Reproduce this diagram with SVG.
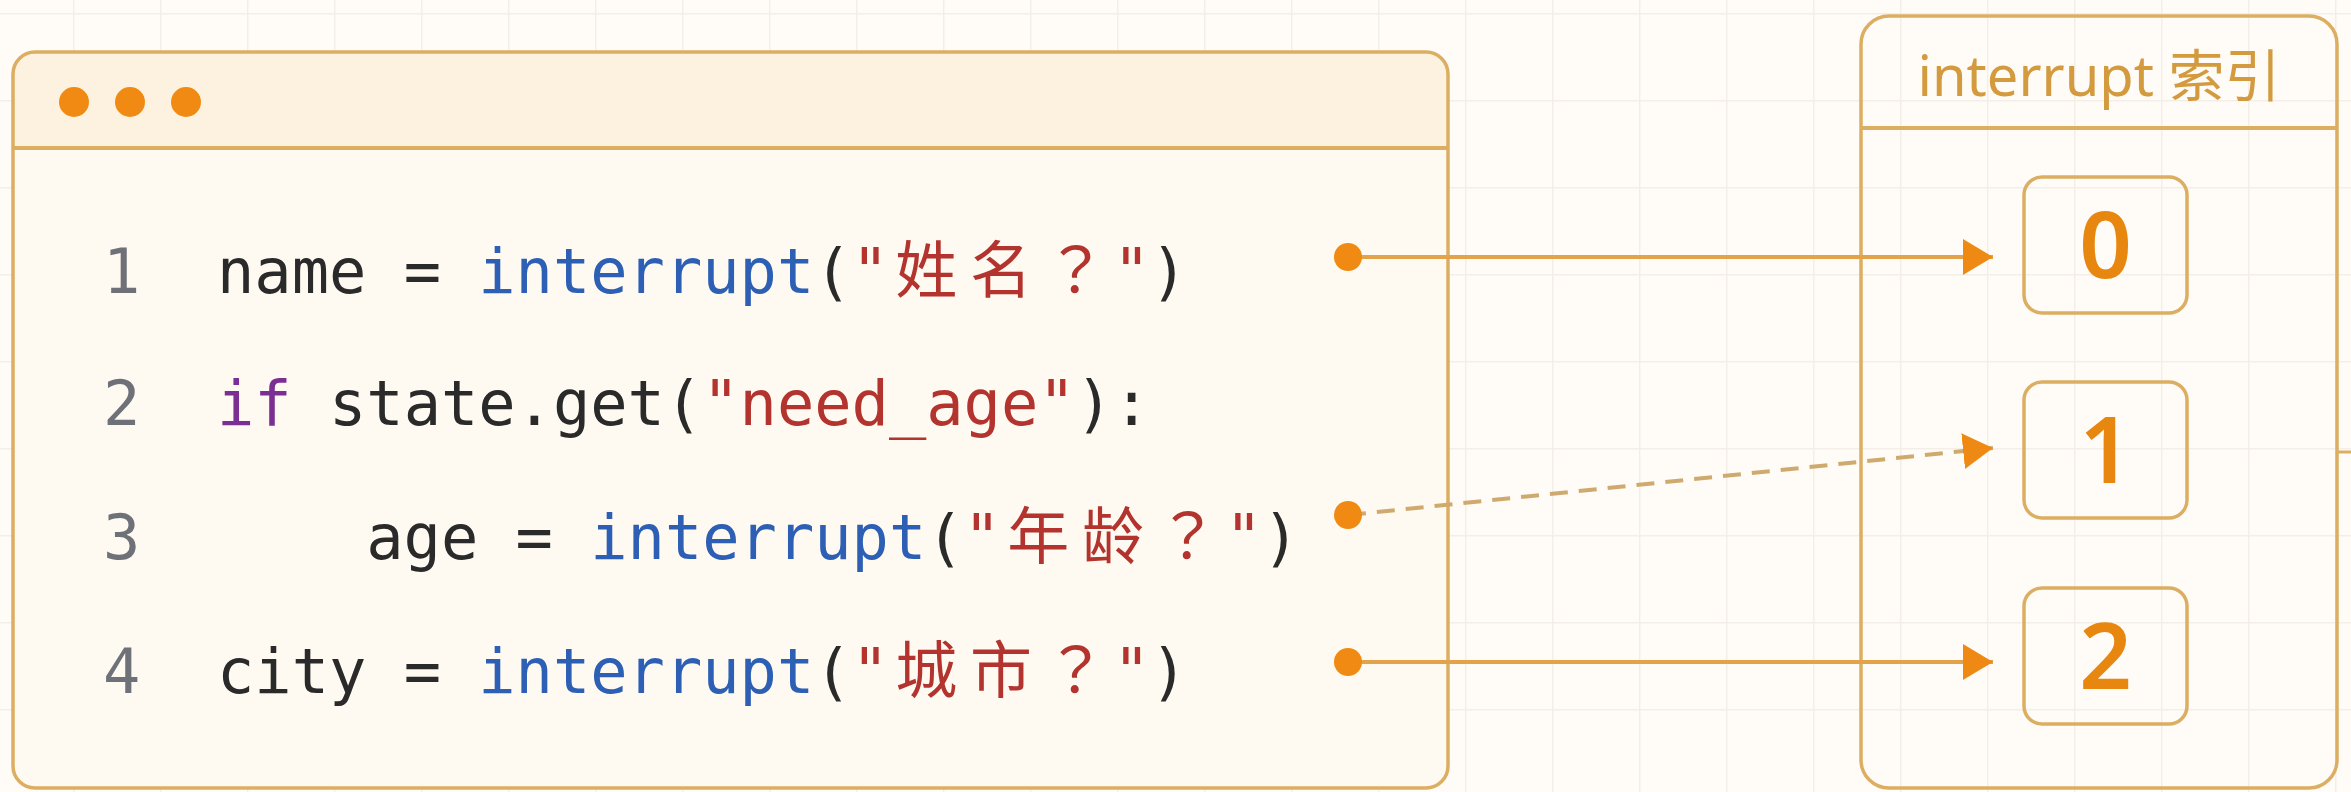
<svg xmlns="http://www.w3.org/2000/svg" width="2351" height="792" viewBox="0 0 2351 792">
<style>
.code{font-family:"DejaVu Sans Mono","Liberation Mono",monospace;font-size:62px;fill:#2a2a2a}
.cjk{font-family:"Noto Sans CJK SC",sans-serif;font-size:62px;fill:#b3342e}
.q{font-family:"Noto Sans CJK JP",sans-serif;font-size:62px;fill:#b3342e}
.ln{fill:#6e7278}
.fn{fill:#2d5fb4}
.str{fill:#b3342e}
.kw{fill:#7b2f93}
.frame{fill:none;stroke:#dcae62;stroke-width:3.5}
.num{font-family:"Noto Sans","Liberation Sans",sans-serif;font-size:92px;font-weight:600;fill:#e8870f;text-anchor:middle}
.hdr{font-family:"Noto Sans","Liberation Sans",sans-serif;font-size:56px;fill:#d39a3e;text-anchor:middle}
.link{fill:none;stroke:#e2a34a;stroke-width:4}
.dash{fill:none;stroke:#cfaa6e;stroke-width:4;stroke-dasharray:18 11}
.dot{fill:#f08a12}
</style>
<defs>
<pattern id="grid" patternUnits="userSpaceOnUse" x="73" y="13" width="87" height="87">
<path d="M0,0 H87 M0,0 V87" fill="none" stroke="#f3eee8" stroke-width="3"/>
</pattern>
<marker id="ah" markerUnits="userSpaceOnUse" markerWidth="32" markerHeight="36" refX="30" refY="18" orient="auto">
<path d="M0,0 L30,18 L0,36 Z" fill="#ee8a13"/>
</marker>
</defs>
<rect width="2351" height="792" fill="#fffcf8"/>
<rect width="2351" height="792" fill="url(#grid)"/>

<g id="code-window">
<rect x="13" y="52" width="1435" height="736" rx="22" fill="#fffaf1"/>
<path d="M13,148 V74 Q13,52 35,52 H1426 Q1448,52 1448,74 V148 Z" fill="#fdf1df"/>
<rect x="13" y="52" width="1435" height="736" rx="22" class="frame"/>
<line x1="13" y1="148" x2="1448" y2="148" stroke="#dcae62" stroke-width="4"/>
<circle cx="74" cy="102" r="15" class="dot"/>
<circle cx="130" cy="102" r="15" class="dot"/>
<circle cx="186" cy="102" r="15" class="dot"/>

<text class="code" y="293"><tspan x="103" class="ln">1</tspan><tspan x="217">name =</tspan><tspan x="478.3" class="fn">interrupt</tspan><tspan x="814.3">(</tspan><tspan x="851.6" class="str">"</tspan><tspan x="895.3" class="cjk">姓</tspan><tspan x="970" class="cjk">名</tspan><tspan x="1044.6" class="q">？</tspan><tspan x="1113" class="str">"</tspan><tspan x="1150.3">)</tspan></text>

<text class="code" y="425"><tspan x="103" class="ln">2</tspan><tspan x="217" class="kw">if</tspan><tspan x="329">state.get(</tspan><tspan x="702.3" class="str">"need_age"</tspan><tspan x="1075.6">):</tspan></text>

<text class="code" y="559"><tspan x="103" class="ln">3</tspan><tspan x="366.3">age =</tspan><tspan x="590.3" class="fn">interrupt</tspan><tspan x="926.3">(</tspan><tspan x="963.6" class="str">"</tspan><tspan x="1007.3" class="cjk">年</tspan><tspan x="1082" class="cjk">龄</tspan><tspan x="1156.6" class="q">？</tspan><tspan x="1225" class="str">"</tspan><tspan x="1262.3">)</tspan></text>

<text class="code" y="693"><tspan x="103" class="ln">4</tspan><tspan x="217">city =</tspan><tspan x="478.3" class="fn">interrupt</tspan><tspan x="814.3">(</tspan><tspan x="851.6" class="str">"</tspan><tspan x="895.3" class="cjk">城</tspan><tspan x="970" class="cjk">市</tspan><tspan x="1044.6" class="q">？</tspan><tspan x="1113" class="str">"</tspan><tspan x="1150.3">)</tspan></text>
</g>

<g id="index-panel">
<rect x="1861" y="16" width="476" height="772" rx="28" class="frame"/>
<line x1="1861" y1="128" x2="2337" y2="128" stroke="#dcae62" stroke-width="4"/>
<text class="hdr" x="2099" y="96">interrupt <tspan font-family="Noto Sans CJK SC, sans-serif">索引</tspan></text>
</g>

<g id="index-0">
<rect x="2024" y="177" width="163" height="136" rx="18" class="frame"/>
<text class="num" x="2105.5" y="278">0</text>
</g>
<g id="index-1">
<rect x="2024" y="382" width="163" height="136" rx="18" class="frame"/>
<text class="num" x="2105.5" y="483">1</text>
</g>
<g id="index-2">
<rect x="2024" y="588" width="163" height="136" rx="18" class="frame"/>
<text class="num" x="2105.5" y="689">2</text>
</g>

<g id="connectors">
<line x1="1348" y1="257" x2="1993" y2="257" class="link" marker-end="url(#ah)"/>
<line x1="1348" y1="515" x2="1993" y2="448" class="dash" marker-end="url(#ah)"/>
<line x1="1348" y1="662" x2="1993" y2="662" class="link" marker-end="url(#ah)"/>
<line x1="2337" y1="452" x2="2351" y2="452" stroke="#dcae62" stroke-width="3"/>
<circle cx="1348" cy="257" r="14" class="dot"/>
<circle cx="1348" cy="515" r="14" class="dot"/>
<circle cx="1348" cy="662" r="14" class="dot"/>
</g>
</svg>
